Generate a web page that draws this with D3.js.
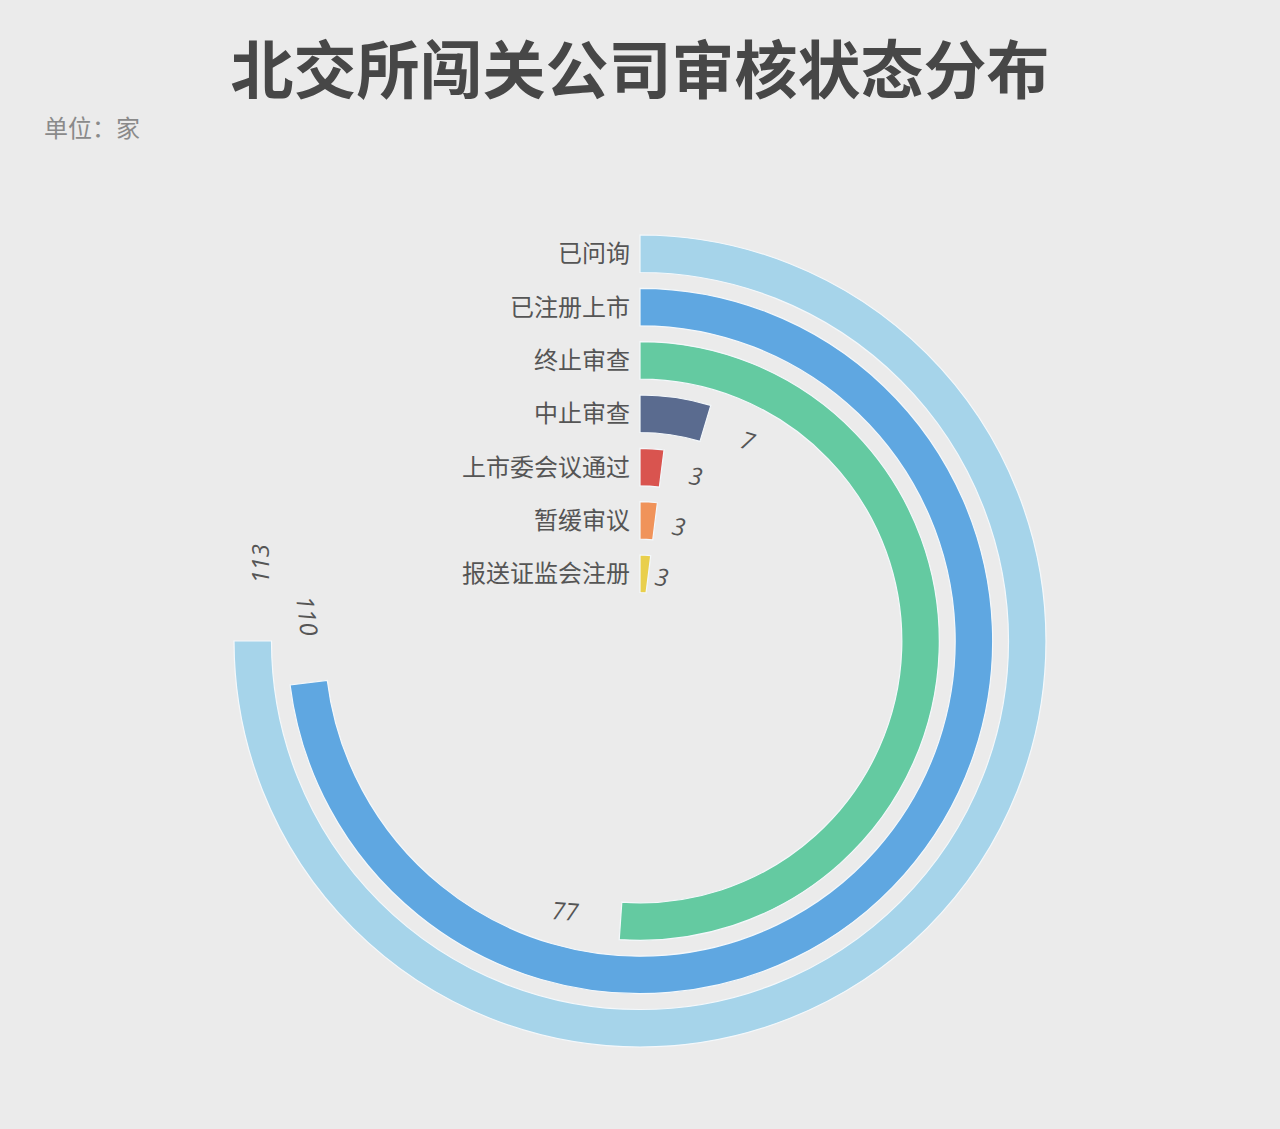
<!DOCTYPE html>
<html>
<head>
<meta charset="utf-8">
<script src="https://cdn.jsdelivr.net/npm/d3@7"></script>
<style>
  body { margin: 0; background: #ebebeb; }
  svg { display: block; }
</style>
</head>
<body>
<div id="chart"></div>
<script>
// data
var categories = ["已问询", "已注册上市", "终止审查", "中止审查", "上市委会议通过", "暂缓审议", "报送证监会注册"];
var values = [113, 110, 77, 7, 3, 3, 3];
var colors = ["#a6d4ea", "#5fa7e1", "#64caa1", "#5a6b8f", "#d9544f", "#f0935a", "#e9cf4c"];

var svgWidth = 1280;
var svgHeight = 1129;
var cx = 640, cy = 641;

var svg = d3.select("#chart")
  .append("svg")
  .attr("width", svgWidth)
  .attr("height", svgHeight);

svg.append("rect")
  .attr("width", svgWidth)
  .attr("height", svgHeight)
  .attr("fill", "#ebebeb");

// title
svg.append("text")
  .attr("x", 640)
  .attr("y", 93)
  .attr("text-anchor", "middle")
  .attr("font-family", "Noto Sans CJK SC")
  .attr("font-weight", "bold")
  .attr("font-size", 63)
  .attr("fill", "#474747")
  .text("北交所闯关公司审核状态分布");

svg.append("text")
  .attr("x", 44)
  .attr("y", 137)
  .attr("font-family", "Noto Sans CJK SC")
  .attr("font-size", 24)
  .attr("fill", "#8a8a8a")
  .text("单位：家");

// scales
var rScale = d3.scaleBand()
  .domain(categories.slice().reverse())
  .range([48.5, 406])
  .paddingInner(0.297)
  .paddingOuter(0);

var aScale = d3.scaleLinear()
  .domain([0, 113])
  .range([0, Math.PI * 1.5]);

var g = svg.append("g")
  .attr("transform", `translate(${cx}, ${cy})`);

var arc = d3.arc()
  .innerRadius(d => rScale(d.cat))
  .outerRadius(d => rScale(d.cat) + rScale.bandwidth())
  .startAngle(0)
  .endAngle(d => aScale(d.val));

var rows = categories.map((c, i) => ({cat: c, val: values[i], color: colors[i]}));

g.selectAll("path.bar")
  .data(rows)
  .enter()
  .append("path")
  .attr("class", "bar")
  .attr("d", arc)
  .attr("fill", d => d.color)
  .attr("stroke", "#f4f8fb")
  .attr("stroke-width", 1.2);

// category labels
g.selectAll("text.cat")
  .data(rows)
  .enter()
  .append("text")
  .attr("class", "cat")
  .attr("x", -10)
  .attr("y", d => -(rScale(d.cat) + rScale.bandwidth() / 2))
  .attr("dy", "0.36em")
  .attr("text-anchor", "end")
  .attr("font-family", "Noto Sans CJK SC")
  .attr("font-size", 24)
  .attr("fill", "#555")
  .text(d => d.cat);

// value labels, a bit past the end of each bar
var labelOffset = 11.5 * Math.PI / 180;
g.selectAll("text.val")
  .data(rows)
  .enter()
  .append("text")
  .attr("class", "val")
  .attr("transform", function(d) {
    var r = rScale(d.cat) + rScale.bandwidth() / 2;
    var a = aScale(d.val) + labelOffset;
    var deg = aScale(d.val) * 180 / Math.PI;
    var rot = deg;
    if (deg > 90 && deg < 270) rot = deg - 180;
    else if (deg >= 270) rot = deg - 360;
    return `translate(${r * Math.sin(a)}, ${-r * Math.cos(a)}) rotate(${rot})`;
  })
  .attr("text-anchor", "middle")
  .attr("dy", "0.36em")
  .attr("font-family", "Open Sans")
  .attr("font-style", "italic")
  .attr("font-size", 24)
  .attr("fill", "#555")
  .text(d => d.val);
</script>
</body>
</html>
